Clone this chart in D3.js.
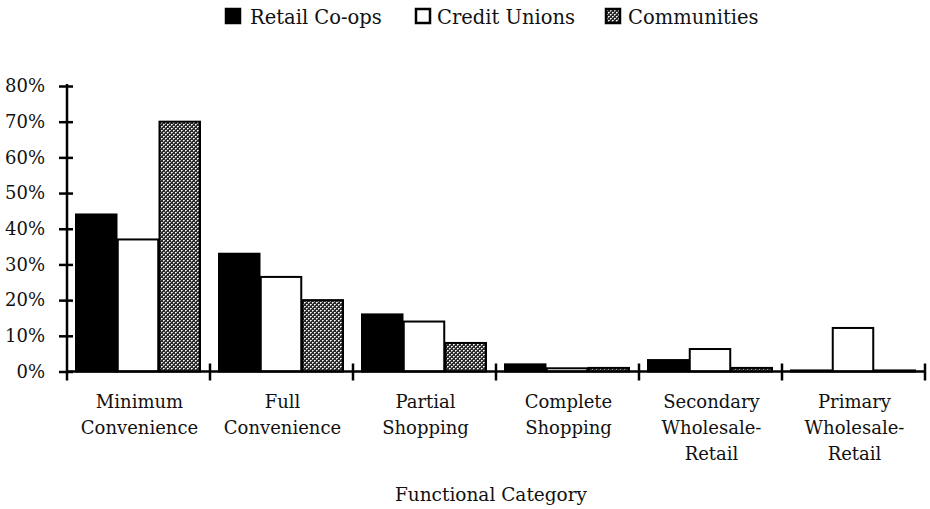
<!DOCTYPE html>
<html>
<head>
<meta charset="utf-8">
<script src="https://cdn.jsdelivr.net/npm/d3@7"></script>
<style>
  html, body { margin: 0; padding: 0; background: #fff; }
  svg { display: block; }
  text { font-family: "DejaVu Serif", "Liberation Serif", serif; fill: #111; }
</style>
</head>
<body>
<svg id="chart" width="930" height="509"></svg>
<script>
const categories = [
  ["Minimum", "Convenience"],
  ["Full", "Convenience"],
  ["Partial", "Shopping"],
  ["Complete", "Shopping"],
  ["Secondary", "Wholesale-", "Retail"],
  ["Primary", "Wholesale-", "Retail"]
];
const seriesNames = ["Retail Co-ops", "Credit Unions", "Communities"];
const retailCoops  = [44, 33, 16, 2, 3.2, 0.3];
const creditUnions = [37, 26.5, 14, 0.9, 6.3, 12.2];
const communities  = [70, 20, 8, 1, 1, 0.3];
const yTicks = [0, 10, 20, 30, 40, 50, 60, 70, 80];
const xTitle = "Functional Category";

const seriesValues = [retailCoops, creditUnions, communities];
const catKeys = categories.map(c => c.join(" "));

const svg = d3.select("#chart");
const pLeft = 67, pRight = 925, pTop = 86, pBottom = 371.5;

// pattern (dark halftone mesh with light dots)
const defs = svg.append("defs");
const pat = defs.append("pattern").attr("id", "dots")
  .attr("patternUnits", "userSpaceOnUse").attr("width", 4).attr("height", 4);
pat.append("rect").attr("width", 4).attr("height", 4).attr("fill", "#2b2b2b");
pat.append("rect").attr("x", 0).attr("y", 0).attr("width", 1).attr("height", 1).attr("fill", "#fff");
pat.append("rect").attr("x", 2).attr("y", 2).attr("width", 1).attr("height", 1).attr("fill", "#fff");
pat.append("rect").attr("x", 1).attr("y", 0).attr("width", 1).attr("height", 1).attr("fill", "#bbb");
pat.append("rect").attr("x", 3).attr("y", 2).attr("width", 1).attr("height", 1).attr("fill", "#bbb");
pat.append("rect").attr("x", 0).attr("y", 1).attr("width", 1).attr("height", 1).attr("fill", "#999");
pat.append("rect").attr("x", 2).attr("y", 3).attr("width", 1).attr("height", 1).attr("fill", "#999");

const fills = ["#000", "#fff", "url(#dots)"];

const x0 = d3.scaleBand().domain(catKeys).range([pLeft, pRight]).paddingInner(0).paddingOuter(0);
const x1 = d3.scaleBand().domain(seriesNames).range([9, 133]).paddingInner(0.03);
const y = d3.scaleLinear().domain([0, 80]).range([pBottom, pTop]);

// bars
const groups = svg.append("g").selectAll("g").data(catKeys).join("g")
  .attr("transform", d => `translate(${x0(d)},0)`);
groups.selectAll("rect")
  .data((d, i) => seriesNames.map((s, j) => ({ s, j, v: seriesValues[j][i] })))
  .join("rect")
  .attr("x", d => x1(d.s))
  .attr("width", x1.bandwidth())
  .attr("y", d => y(d.v))
  .attr("height", d => y(0) - y(d.v))
  .attr("fill", d => fills[d.j])
  .attr("stroke", "#000")
  .attr("stroke-width", 2);

// y axis
const yAxis = svg.append("g").attr("transform", `translate(${pLeft},0)`)
  .call(d3.axisLeft(y).tickValues(yTicks).tickFormat(d => d + "%").tickSizeInner(0).tickSizeOuter(0).tickPadding(22));
yAxis.select(".domain").remove();
yAxis.selectAll("text").attr("font-size", 18).attr("font-family", "DejaVu Serif").attr("fill", "#111");
yAxis.selectAll(".tick").append("line").attr("x1", -8).attr("x2", 6).attr("stroke", "#000").attr("stroke-width", 2.5);
svg.append("line").attr("x1", pLeft).attr("x2", pLeft).attr("y1", pTop - 2).attr("y2", pBottom + 9)
  .attr("stroke", "#000").attr("stroke-width", 2.5);

// x axis
svg.append("line").attr("x1", pLeft).attr("x2", pRight).attr("y1", pBottom).attr("y2", pBottom)
  .attr("stroke", "#000").attr("stroke-width", 2.5);
const xEdges = catKeys.map(k => x0(k) + x0.bandwidth());
svg.append("g").selectAll("line").data(xEdges).join("line")
  .attr("x1", d => d).attr("x2", d => d).attr("y1", pBottom - 8).attr("y2", pBottom + 9)
  .attr("stroke", "#000").attr("stroke-width", 2.5);

// category labels
const labG = svg.append("g").selectAll("text").data(categories).join("text")
  .attr("text-anchor", "middle")
  .attr("font-size", 18)
  .attr("x", (d, i) => x0(catKeys[i]) + x0.bandwidth() / 2 + 1)
  .attr("y", 408);
labG.selectAll("tspan").data(d => d).join("tspan")
  .attr("x", function() { return d3.select(this.parentNode).attr("x"); })
  .attr("dy", (d, i) => i === 0 ? 0 : 26)
  .text(d => d);

// x title
svg.append("text").attr("x", 491).attr("y", 501).attr("text-anchor", "middle")
  .attr("font-size", 18.5).text(xTitle);

// legend
const legendPos = [{ sq: 225, tx: 250 }, { sq: 415, tx: 437 }, { sq: 605, tx: 628 }];
const lg = svg.append("g").selectAll("g").data(seriesNames).join("g");
lg.append("rect")
  .attr("x", (d, i) => legendPos[i].sq + 1).attr("y", 9)
  .attr("width", 14).attr("height", 14)
  .attr("fill", (d, i) => fills[i]).attr("stroke", "#000").attr("stroke-width", 2.5);
lg.append("text")
  .attr("x", (d, i) => legendPos[i].tx).attr("y", 24)
  .attr("font-size", 19.5).text(d => d);
</script>
</body>
</html>
